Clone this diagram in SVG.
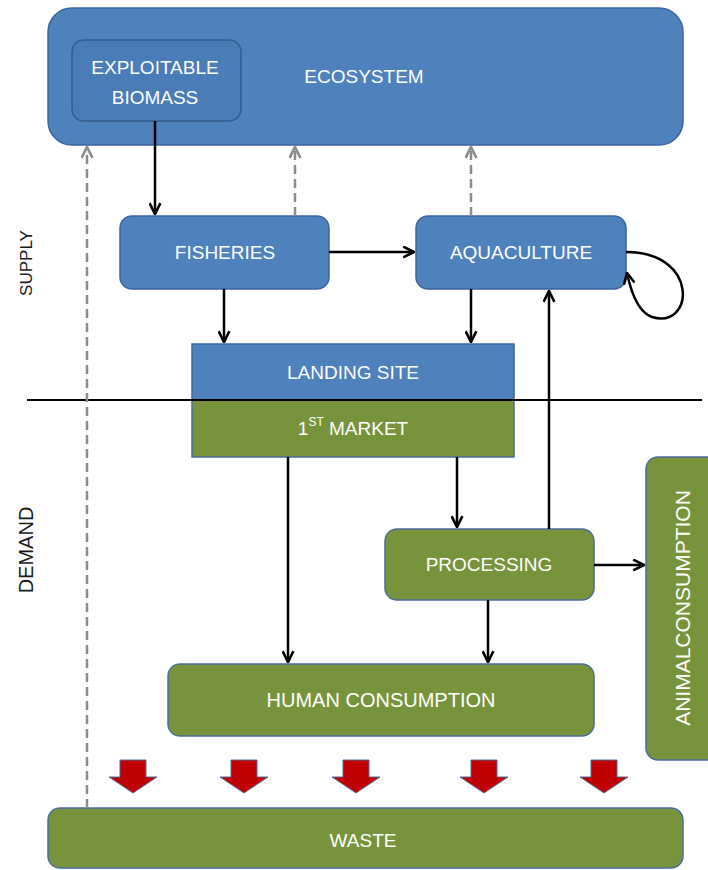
<svg xmlns="http://www.w3.org/2000/svg" width="708" height="870" viewBox="0 0 708 870">
<style>
.blue{fill:#4F81BD;stroke:#3A64A0;stroke-width:1.5}
.green{fill:#77933C;stroke:#4A6E9C;stroke-width:1.5}
.lbl{font-family:"Liberation Sans",Arial,sans-serif;font-size:19px;fill:#FFFFFF;text-anchor:middle;dominant-baseline:central}
.side{font-family:"Liberation Sans",Arial,sans-serif;font-size:17px;fill:#1a1a1a;text-anchor:middle;dominant-baseline:central}
.solid{fill:none;stroke:#000;stroke-width:2.5;marker-end:url(#ah)}
.dash{fill:none;stroke:#8C8C8C;stroke-width:2.5;stroke-dasharray:9,5;marker-end:url(#ahg)}
.red{fill:#C00000;stroke:#4A6E9C;stroke-width:1}
</style>
<defs>
<marker id="ah" viewBox="0 0 12 12" refX="11" refY="6" markerWidth="13" markerHeight="13" markerUnits="userSpaceOnUse" orient="auto">
<path d="M1,1 L11,6 L1,11" fill="none" stroke="#000" stroke-width="2.4"/>
</marker>
<marker id="ahg" viewBox="0 0 12 12" refX="11" refY="6" markerWidth="13" markerHeight="13" markerUnits="userSpaceOnUse" orient="auto">
<path d="M1,1 L11,6 L1,11" fill="none" stroke="#8C8C8C" stroke-width="2.4"/>
</marker>
<path id="redarrow" d="M-13,0 H13 V17 H24 L0,33 L-24,17 H-13 Z"/>
</defs>

<g id="ecosystem">
<rect class="blue" x="48" y="8" width="635" height="137" rx="24"/>
<text class="lbl" x="364" y="76">ECOSYSTEM</text>
</g>
<g id="biomass">
<rect x="72" y="40" width="169" height="81" rx="12" fill="#4A7CB8" stroke="#345A8C" stroke-width="1.5"/>
<text class="lbl" x="155" y="67">EXPLOITABLE</text>
<text class="lbl" x="155" y="97">BIOMASS</text>
</g>
<g id="fisheries">
<rect class="blue" x="120" y="216" width="209" height="73" rx="12"/>
<text class="lbl" x="225" y="252">FISHERIES</text>
</g>
<g id="aquaculture">
<rect class="blue" x="416" y="216" width="210" height="73" rx="12"/>
<text class="lbl" x="521" y="252">AQUACULTURE</text>
</g>
<g id="landing">
<rect class="blue" x="192" y="344" width="322" height="56"/>
<text class="lbl" x="353" y="372">LANDING SITE</text>
</g>
<g id="market">
<rect class="green" x="192" y="400" width="322" height="57"/>
<text class="lbl" x="353" y="428">1<tspan style="font-size:12px" dy="-6">ST</tspan><tspan dy="6"> MARKET</tspan></text>
</g>
<g id="processing">
<rect class="green" x="385" y="529" width="209" height="71" rx="12"/>
<text class="lbl" x="489" y="564">PROCESSING</text>
</g>
<g id="animal">
<rect class="green" x="646" y="457" width="80" height="303" rx="12"/>
<text class="lbl" style="font-size:21px" transform="translate(682,608) rotate(-90)" x="0" y="0">ANIMALCONSUMPTION</text>
</g>
<g id="human">
<rect class="green" x="168" y="664" width="426" height="72" rx="12"/>
<text class="lbl" style="font-size:20px" x="381" y="700">HUMAN CONSUMPTION</text>
</g>
<g id="waste">
<rect class="green" x="48" y="808" width="635" height="60" rx="12"/>
<text class="lbl" x="363" y="840">WASTE</text>
</g>

<g id="labels">
<text class="side" transform="translate(26,263) rotate(-90)">SUPPLY</text>
<text class="side" style="font-size:20px" transform="translate(26,550) rotate(-90)">DEMAND</text>
</g>

<g id="connectors">
<line x1="27" y1="400" x2="702" y2="400" stroke="#000" stroke-width="2"/>
<path class="dash" d="M87,808 V147"/>
<path class="dash" d="M295,216 V147"/>
<path class="dash" d="M471,216 V147"/>
<path class="solid" d="M155,121 V214"/>
<path class="solid" d="M329,252 H414"/>
<path class="solid" d="M224,289 V342"/>
<path class="solid" d="M471,289 V342"/>
<path class="solid" d="M288,457 V662"/>
<path class="solid" d="M457,457 V527"/>
<path class="solid" d="M549,529 V291"/>
<path class="solid" d="M594,565 H644"/>
<path class="solid" d="M488,600 V662"/>
<path class="solid" d="M626,252 C700,252 694,330 652,317 C638,312 631,292 627,273"/>
</g>

<g id="waste-arrows">
<use href="#redarrow" class="red" x="133" y="760"/>
<use href="#redarrow" class="red" x="244" y="760"/>
<use href="#redarrow" class="red" x="356" y="760"/>
<use href="#redarrow" class="red" x="484" y="760"/>
<use href="#redarrow" class="red" x="604" y="760"/>
</g>
</svg>
